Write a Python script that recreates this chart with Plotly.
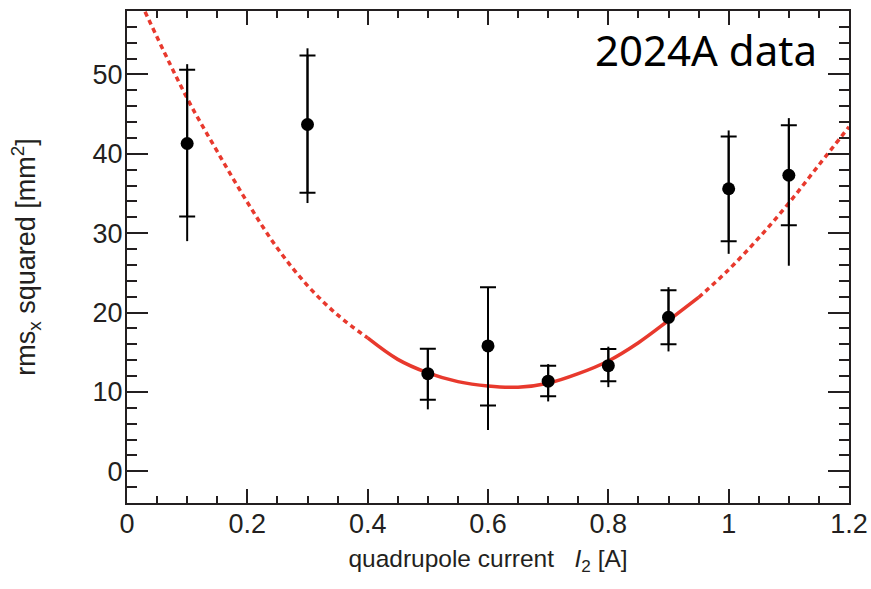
import plotly.graph_objects as go

# measured points
current = [0.1, 0.3, 0.5, 0.6, 0.7, 0.8, 0.9, 1.0, 1.1]
rms2 = [41.3, 43.7, 12.3, 15.8, 11.35, 13.3, 19.4, 35.6, 37.3]
# inner (capped) error bar ends
cap_hi = [50.6, 52.4, 15.45, 23.2, 13.3, 15.4, 22.8, 42.2, 43.6]
cap_lo = [32.1, 35.1, 9.0, 8.3, 9.45, 11.35, 16.0, 29.0, 31.0]
# outer (total) error bar ends
tot_hi = [51.3, 53.3, 15.5, 23.2, 13.5, 15.7, 23.2, 42.95, 44.5]
tot_lo = [29.0, 33.8, 7.8, 5.2, 8.8, 10.6, 15.1, 27.4, 25.9]

# fitted curve
fit_x = [0.03, 0.1, 0.15, 0.2, 0.25, 0.3, 0.35, 0.4, 0.45, 0.5, 0.55, 0.6, 0.65,
         0.7, 0.75, 0.8, 0.85, 0.9, 0.95, 1.0, 1.05, 1.1, 1.15, 1.2]
fit_y = [57.9, 47.0, 40.3, 33.9, 28.1, 23.4, 19.7, 16.8, 14.1, 12.4, 11.3, 10.75, 10.6,
         11.1, 12.3, 13.9, 16.2, 19.0, 21.9, 25.4, 29.4, 33.8, 38.6, 43.4]
solid_from, solid_to = 0.4, 0.95

x_ticks = [0, 0.2, 0.4, 0.6, 0.8, 1, 1.2]
x_ticklabels = ["0", "0.2", "0.4", "0.6", "0.8", "1", "1.2"]
y_ticks = [0, 10, 20, 30, 40, 50]

RED = "#e8392d"
INK = "#231f20"

fig = go.Figure()

i0 = fit_x.index(solid_from)
i1 = fit_x.index(solid_to)
segs = [(fit_x[:i0 + 1], fit_y[:i0 + 1], "5px,4px"),
        (fit_x[i0:i1 + 1], fit_y[i0:i1 + 1], "solid"),
        (fit_x[i1:], fit_y[i1:], "5px,4px")]
for sx, sy, dash in segs:
    fig.add_trace(go.Scatter(x=sx, y=sy, mode="lines",
                             line=dict(color=RED, width=3.5, dash=dash, shape="spline", smoothing=1.0),
                             hoverinfo="skip", showlegend=False))

# outer error bars (no caps)
fig.add_trace(go.Scatter(
    x=current, y=rms2, mode="markers", marker=dict(size=1, color="rgba(0,0,0,0)"),
    error_y=dict(type="data", symmetric=False,
                 array=[h - v for h, v in zip(tot_hi, rms2)],
                 arrayminus=[v - l for l, v in zip(tot_lo, rms2)],
                 color="black", thickness=2, width=0),
    showlegend=False))

# inner error bars with caps, and the points
fig.add_trace(go.Scatter(
    x=current, y=rms2, mode="markers", marker=dict(size=13, color="black"),
    error_y=dict(type="data", symmetric=False,
                 array=[h - v for h, v in zip(cap_hi, rms2)],
                 arrayminus=[v - l for l, v in zip(cap_lo, rms2)],
                 color="black", thickness=2, width=8),
    showlegend=False))

fig.add_annotation(x=1, y=1, xref="paper", yref="paper", xanchor="right", yanchor="top",
                   xshift=-30, yshift=-8, showarrow=False,
                   text="2024A data", font=dict(family="Noto Sans", size=42, color="black"))

axis_common = dict(showgrid=False, zeroline=False, showline=True, linecolor=INK, linewidth=2,
                   ticks="inside", tickcolor=INK, tickwidth=2, mirror="ticks", automargin=False,
                   tickfont=dict(family="Liberation Sans", size=27, color=INK))

fig.update_xaxes(range=[0, 1.2], tickvals=x_ticks, ticktext=x_ticklabels, ticklen=14,
                 ticklabelstandoff=-4,
                 minor=dict(dtick=0.05, ticklen=7, ticks="inside", tickcolor=INK, tickwidth=2),
                 title=dict(text="quadrupole current   <i>I</i><sub>2</sub> [A]", standoff=11,
                            font=dict(family="Liberation Sans", size=24.5, color=INK)),
                 **axis_common)
fig.update_yaxes(range=[-4, 58], tickvals=y_ticks, ticklen=21,
                 ticklabelstandoff=-3,
                 minor=dict(dtick=2, ticklen=10, ticks="inside", tickcolor=INK, tickwidth=2),
                 title=dict(text="rms<sub>x</sub> squared [mm<sup>2</sup>]", standoff=49,
                            font=dict(family="Liberation Sans", size=27, color=INK)),
                 **axis_common)

fig.update_layout(width=871, height=589, plot_bgcolor="white", paper_bgcolor="white",
                  margin=dict(l=127, r=22, t=11, b=86))

fig.write_html("out.html", config={"displayModeBar": False},
               post_script="document.body.style.margin='0';")
